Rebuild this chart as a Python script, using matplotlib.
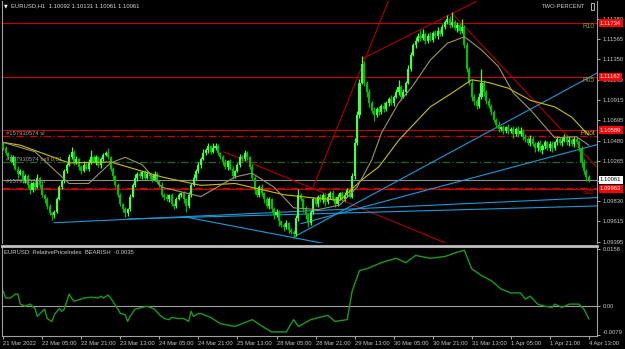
import numpy as np
import matplotlib
matplotlib.use('Agg')
import matplotlib.pyplot as plt
from matplotlib import transforms
from matplotlib.patches import Rectangle

plt.rcParams['font.family'] = ['Liberation Sans', 'DejaVu Sans']

# EURUSD H1 closes, 21 Mar 13:00 .. 4 Apr 13:00 (open = previous close)
first_open = 1.1043
closes = [
    1.1040, 1.1035, 1.1030, 1.1025, 1.1030, 1.1018, 1.1012, 1.1015, 1.1005, 1.1010,
    1.1000, 1.0995, 1.1003, 1.0998, 1.1008, 1.1000, 1.0990, 1.0985, 1.0978, 1.0970,
    1.0968, 1.0972, 1.0985, 1.0998, 1.1005, 1.1015, 1.1022, 1.1030, 1.1036, 1.1025,
    1.1028, 1.1020, 1.1015, 1.1022, 1.1018, 1.1025, 1.1030, 1.1025, 1.1030, 1.1022,
    1.1028, 1.1032, 1.1035, 1.1030, 1.1018, 1.1010, 1.1000, 1.0990, 1.0980, 1.0975,
    1.0970, 1.0975, 1.0988, 1.1000, 1.1008, 1.1012, 1.1010, 1.1014, 1.1008, 1.1012,
    1.1010, 1.1006, 1.1012, 1.1005, 1.1000, 1.0990, 1.0988, 1.0985, 1.0990, 1.0980,
    1.0978, 1.0985, 1.0990, 1.0992, 1.0985, 1.0978, 1.0990, 1.1000, 1.1008, 1.1015,
    1.1022, 1.1028, 1.1035, 1.1038, 1.1042, 1.1036, 1.1040, 1.1042, 1.1035, 1.1030,
    1.1025, 1.1020, 1.1026, 1.1018, 1.1010, 1.1015, 1.1022, 1.1030, 1.1028, 1.1035,
    1.1030, 1.1020, 1.1008, 1.0995, 1.0990, 1.0998, 1.0992, 1.0985, 1.0978, 1.0985,
    1.0975, 1.0968, 1.0972, 1.0962, 1.0958, 1.0955, 1.0960, 1.0952, 1.0950, 1.0948,
    1.0965, 1.0990, 1.0985, 1.0975, 1.0968, 1.0960, 1.0972, 1.0985, 1.0980, 1.0988,
    1.0984, 1.0990, 1.0982, 1.0988, 1.0992, 1.0985, 1.0980, 1.0988, 1.0992, 1.0985,
    1.0990, 1.0995, 1.0988, 1.1010, 1.1045, 1.1075, 1.1110, 1.1130, 1.1110, 1.1100,
    1.1088, 1.1080, 1.1075, 1.1082, 1.1078, 1.1085, 1.1082, 1.1088, 1.1092, 1.1088,
    1.1095, 1.1100, 1.1105, 1.1095, 1.1100, 1.1110, 1.1125, 1.1140, 1.1150, 1.1155,
    1.1160, 1.1158, 1.1162, 1.1155, 1.1160, 1.1156, 1.1163, 1.1160, 1.1165, 1.1162,
    1.1170, 1.1175, 1.1178, 1.1172, 1.1175, 1.1168, 1.1172, 1.1165, 1.1170, 1.1150,
    1.1125, 1.1110, 1.1095, 1.1090, 1.1085, 1.1095, 1.1110, 1.1100, 1.1090, 1.1085,
    1.1078, 1.1070, 1.1065, 1.1060, 1.1062, 1.1058, 1.1062, 1.1058, 1.1060, 1.1055,
    1.1060, 1.1055, 1.1058, 1.1052, 1.1050, 1.1045, 1.1050, 1.1044, 1.1040, 1.1045,
    1.1038, 1.1042, 1.1046, 1.1040, 1.1044, 1.1040, 1.1046, 1.1050, 1.1045, 1.1048,
    1.1052, 1.1046, 1.1049, 1.1044, 1.1050, 1.1046, 1.1040, 1.1025, 1.1015, 1.1009,
    1.1006,
]
# wick lengths in pips above / below the body
wick_up = [
    3, 2, 1, 4, 2, 1, 3, 2, 1, 2,  2, 3, 1, 2, 4, 1, 2, 1, 3, 2,
    1, 2, 3, 2, 1, 3, 2, 4, 5, 2,  3, 1, 2, 4, 2, 3, 8, 2, 3, 1,
    2, 3, 2, 5, 1, 2, 1, 3, 2, 1,  2, 1, 3, 2, 4, 2, 3, 1, 2, 3,
    2, 1, 3, 2, 1, 4, 2, 3, 1, 2,  1, 3, 2, 1, 2, 1, 3, 2, 4, 2,
    3, 2, 4, 2, 3, 1, 5, 3, 2, 1,  2, 3, 1, 2, 3, 1, 2, 4, 2, 3,
    2, 1, 3, 2, 1, 2, 3, 1, 2, 3,  1, 2, 3, 2, 1, 2, 3, 1, 2, 2,
    3, 6, 2, 1, 3, 2, 2, 3, 1, 2,  3, 2, 1, 4, 2, 3, 2, 3, 1, 2,
    3, 2, 1, 3, 6, 5, 4, 8, 3, 2,  3, 2, 4, 2, 3, 2, 4, 2, 3, 5,
    2, 3, 8, 2, 3, 2, 4, 3, 2, 4,  3, 6, 5, 2, 3, 4, 2, 3, 5, 2,
    3, 2, 4, 3, 10, 2, 3, 2, 8, 2, 3, 2, 4, 3, 2, 4, 15, 3, 2, 3,
    2, 3, 2, 4, 2, 3, 2, 4, 2, 3,  2, 3, 4, 2, 3, 2, 4, 3, 2, 3,
    4, 2, 3, 2, 3, 4, 2, 3, 2, 4,  3, 2, 4, 2, 3, 2, 3, 2, 3, 2,
    2,
]
wick_dn = [
    2, 3, 2, 1, 3, 2, 4, 1, 3, 2,  3, 4, 2, 3, 1, 3, 2, 4, 3, 2,
    5, 3, 2, 1, 2, 3, 2, 1, 2, 3,  2, 4, 3, 1, 2, 3, 2, 1, 3, 2,
    3, 2, 1, 2, 3, 4, 2, 3, 2, 3,  4, 3, 2, 1, 2, 3, 2, 3, 2, 1,
    3, 2, 1, 3, 2, 3, 4, 2, 3, 2,  3, 2, 1, 3, 4, 7, 2, 3, 1, 2,
    2, 3, 1, 2, 3, 2, 1, 2, 3, 2,  3, 2, 4, 2, 3, 2, 1, 2, 3, 2,
    3, 2, 2, 4, 3, 2, 3, 4, 2, 3,  3, 4, 2, 5, 3, 4, 2, 3, 2, 4,
    2, 3, 2, 3, 4, 5, 2, 3, 2, 3,  2, 3, 4, 2, 3, 2, 3, 2, 3, 2,
    2, 3, 2, 2, 3, 2, 3, 2, 4, 5,  4, 3, 6, 2, 3, 2, 4, 2, 3, 2,
    3, 2, 3, 4, 2, 3, 2, 3, 2, 3,  2, 3, 2, 4, 3, 2, 3, 2, 3, 2,
    2, 3, 2, 4, 3, 2, 4, 3, 2, 3,  4, 3, 5, 4, 3, 2, 3, 4, 3, 2,
    3, 2, 4, 3, 2, 3, 2, 3, 2, 4,  2, 3, 2, 3, 4, 2, 3, 2, 4, 3,
    2, 4, 3, 2, 3, 4, 2, 3, 2, 3,  2, 3, 4, 2, 3, 2, 3, 5, 3, 4,
    2,
]

# moving averages (bar index, price)
ma_slow_bars = [0, 7, 27, 44, 65, 81, 95, 115, 129, 138, 147, 154, 162, 167, 175, 184, 192, 199, 207, 216, 226, 233, 238, 240]
ma_slow = [1.1046, 1.1043, 1.1024, 1.1025, 1.1009, 1.1000, 1.1002, 1.0990, 1.0986, 1.0984, 1.1006, 1.1020,
           1.1048, 1.1062, 1.1084, 1.1099, 1.1113, 1.1110, 1.1104, 1.1091, 1.1084, 1.1073, 1.1059, 1.1054]
ma_fast_bars = [0, 13, 22, 27, 35, 44, 50, 57, 65, 81, 95, 102, 111, 119, 129, 138, 145, 151, 155, 162,
                168, 175, 182, 189, 196, 203, 209, 216, 226, 235, 240]
ma_fast = [1.1046, 1.1036, 1.1014, 1.1002, 1.1002, 1.1024, 1.1030, 1.1022, 1.0998, 1.0988, 1.1009, 1.1013,
           1.0998, 1.0976, 1.0974, 1.0979, 1.0998, 1.1027, 1.1056, 1.1088, 1.1107, 1.1134, 1.1152, 1.1159,
           1.1145, 1.1127, 1.1099, 1.1081, 1.1051, 1.1052, 1.1043]

# levels
r10, r05, pivot, s05 = 1.11734, 1.11162, 1.10589, 1.09963
bid = 1.10061
sl, entry, tp = 1.10528, 1.10250, 1.09972

# trend lines: (bar0, price0, bar1, price1)
red_lines = [(127, 1.0998, 158, 1.1198), (147.5, 1.1136, 194, 1.1197),
             (184.4, 1.1183, 243, 1.1020), (90.2, 1.1036, 181.6, 1.0938)]
blue_lines = [(20.9, 1.0960, 244, 1.0987), (51.2, 1.0964, 244, 1.0978),
              (75, 1.0966, 131, 1.0938), (119.3, 1.0945, 244, 1.1121),
              (122, 1.0959, 244, 1.1044)]

# relative price index (bar index, value)
rpi_bars = [0, 1, 3, 5, 6, 7, 9, 11, 13, 14, 16, 17, 18, 20, 21, 23, 24, 25, 27, 28, 29, 32, 33, 36, 39,
            40, 41, 43, 44, 47, 48, 50, 51, 52, 54, 57, 59, 62, 64, 66, 68, 69, 72, 74, 76, 77, 78, 80, 81,
            85, 89, 95, 102, 107, 110, 116, 119, 121, 126, 133, 136, 141, 143, 146, 149, 155, 161, 165, 169,
            175, 181, 186, 189, 192, 196, 200, 204, 208, 212, 214, 216, 218, 219, 222, 225, 226, 229, 232,
            236, 238, 240]
rpi = [0.0042, 0.0023, 0.0023, 0.0034, 0.0034, 0.0006, 0.0000, 0.0006, -0.0006, -0.0028, -0.0014, -0.0008,
       -0.0034, -0.0042, -0.0023, -0.0006, -0.0014, -0.0008, 0.0034, 0.0023, 0.0014, 0.0020, 0.0023, 0.0025,
       0.0023, 0.0028, 0.0023, 0.0031, 0.0023, -0.0008, -0.0020, -0.0023, -0.0042, -0.0028, -0.0008, -0.0003,
       0.0000, -0.0008, -0.0023, -0.0034, -0.0037, -0.0031, -0.0034, -0.0034, -0.0042, -0.0014, -0.0028,
       -0.0020, -0.0020, -0.0031, -0.0048, -0.0056, -0.0037, -0.0059, -0.0071, -0.0071, -0.0037, -0.0056,
       -0.0037, -0.0025, -0.0042, -0.0037, 0.0042, 0.0099, 0.0104, 0.0121, 0.0133, 0.0121, 0.0141, 0.0133,
       0.0138, 0.0150, 0.0155, 0.0104, 0.0085, 0.0071, 0.0048, 0.0037, 0.0037, 0.0020, 0.0028, 0.0014,
       0.0006, 0.0000, -0.0003, 0.0006, -0.0003, 0.0006, 0.0006, -0.0008, -0.0035]

price_ticks = [1.11780, 1.11565, 1.11350, 1.11130, 1.10915, 1.10695, 1.10480, 1.10265, 1.10045, 1.09830, 1.09615, 1.09395]
time_labels = ['21 Mar 2022', '22 Mar 05:00', '22 Mar 21:00', '23 Mar 13:00', '24 Mar 05:00', '24 Mar 21:00',
               '25 Mar 13:00', '28 Mar 05:00', '28 Mar 21:00', '29 Mar 13:00', '30 Mar 05:00', '30 Mar 21:00',
               '31 Mar 13:00', '1 Apr 05:00', '1 Apr 21:00', '4 Apr 13:00']

BULL = '#44ff44'
BEAR = '#00c000'
RED = '#c80000'
BLUE = '#1a9ad6'
AXC = '#c8c8c8'
FS = 4.2

W, H = 625, 349
fig = plt.figure(figsize=(W / 100, H / 100), dpi=100, facecolor='black')

def box(x0, y0, x1, y1):
    return [x0 / W, 1 - y1 / H, (x1 - x0) / W, (y1 - y0) / H]

ax = fig.add_axes(box(2, 1, 597, 243), facecolor='black')
ax2 = fig.add_axes(box(2, 246, 597, 335.5), facecolor='black', sharex=ax)

n = len(closes)
idx = np.arange(n)
c = np.array(closes)
o = np.concatenate([[first_open], c[:-1]])
hi = np.maximum(o, c) + np.array(wick_up) * 0.0001
lo = np.minimum(o, c) - np.array(wick_dn) * 0.0001
cols = np.where(c >= o, BULL, BEAR)

# horizontal levels
for lvl in (r10, r05, pivot, s05):
    ax.axhline(lvl, color=RED, lw=0.8, zorder=1)
ax.axhline(bid, color='#909090', lw=0.8, zorder=1)
ax.axhline(sl, color='#d00000', lw=0.9, ls=(0, (6, 2, 1, 2)), zorder=1)
ax.axhline(tp, color='#d00000', lw=0.9, ls=(0, (6, 2, 1, 2)), zorder=1)
ax.axhline(entry, color='#1f6b1f', lw=0.9, ls=(0, (6, 2, 1, 2)), zorder=1)

# candles
ax.vlines(idx, lo, hi, colors=cols, lw=0.9, zorder=3)
ax.bar(idx, np.maximum(np.abs(c - o), 0.00006), bottom=np.minimum(o, c), width=0.85,
       color=cols, linewidth=0, zorder=3)

# moving averages
ax.plot(ma_slow_bars, ma_slow, color='#c8c000', lw=0.8, zorder=4)
ax.plot(ma_fast_bars, ma_fast, color='#9a9468', lw=0.8, zorder=4)

# trend lines
for b0, p0, b1, p1 in red_lines:
    ax.plot([b0, b1], [p0, p1], color='#b00000', lw=0.8, zorder=2)
for b0, p0, b1, p1 in blue_lines:
    ax.plot([b0, b1], [p0, p1], color=BLUE, lw=0.8, zorder=2)

ax.set_xlim(-0.5, 243.35)
ax.set_ylim(1.09383, 1.11973)
ax.yaxis.tick_right()
ax.set_yticks(price_ticks)
# the 1.10045 label sits under the bid box on the terminal, so it stays blank
ax.set_yticklabels(['' if p == 1.10045 else '%.5f' % p for p in price_ticks])
ax.tick_params(axis='y', colors=AXC, labelsize=FS, length=2.5, width=0.6, pad=1.5)
ax.tick_params(axis='x', bottom=False, labelbottom=False)
for s in ('top', 'bottom'):
    ax.spines[s].set_visible(False)
for s in ('left', 'right'):
    ax.spines[s].set_color('#a0a0a0')
    ax.spines[s].set_linewidth(0.8)

# level names and order labels
ax.text(242.5, r10, 'R10', color='#9a9a3a', fontsize=FS + 0.6, ha='right', va='top')
ax.text(242.5, r05, 'R05', color='#9a9a3a', fontsize=FS + 0.6, ha='right', va='top')
ax.text(242.5, pivot, 'Pivot', color='#d2c000', fontsize=FS + 0.6, ha='right', va='top')
ax.text(242.5, s05, 'S05', color='#d00000', fontsize=FS + 0.6, ha='right', va='top')
ax.text(1, sl + 0.00005, '#157930574 sl', color='#a0a0a0', fontsize=FS, va='bottom')
ax.text(1, entry + 0.00005, '#157930574 sell 0.01', color='#a0a0a0', fontsize=FS, va='bottom')
ax.text(1, bid - 0.0002, '#157930574 tp', color='#a0a0a0', fontsize=FS, va='center')

# right-hand price boxes
tr = transforms.blended_transform_factory(fig.transFigure, ax.transData)
for lvl in (r10, r05, pivot, s05):
    fig.text(600 / W, lvl, '%.5f' % lvl, transform=tr, color='white', fontsize=FS, va='center',
             bbox=dict(boxstyle='square,pad=0.25', fc='#ff0000', ec='none'))
fig.text(600 / W, bid, '%.5f' % bid, transform=tr, color='black', fontsize=FS, va='center',
         bbox=dict(boxstyle='square,pad=0.25', fc='white', ec='none'))

# indicator panel
ax2.axhline(0, color='#a0a0a0', lw=0.8)
ax2.plot(rpi_bars, rpi, color='#1c9a1c', lw=1.0)
ax2.set_ylim(-0.0081, 0.01671)
ax2.yaxis.tick_right()
ax2.set_yticks([0.0158, 0.0, -0.0079])
ax2.set_yticklabels(['0.0158', '0.00', '-0.0079'])
ax2.tick_params(axis='y', colors=AXC, labelsize=FS, length=2.5, width=0.6, pad=1.5)
ax2.get_yticklabels()[2].set_va('bottom')
ax2.set_xticks(np.arange(len(time_labels)) * 16)
ax2.set_xticklabels(time_labels)
ax2.tick_params(axis='x', colors=AXC, labelsize=FS, length=2.5, width=0.6, pad=1.5)
for lbl in ax2.get_xticklabels():
    lbl.set_ha('left')
for s in ('left', 'right', 'bottom'):
    ax2.spines[s].set_color('#a0a0a0')
    ax2.spines[s].set_linewidth(0.8)
ax2.spines['top'].set_color('#c0c0c0')
ax2.spines['top'].set_linewidth(2.0)
ax2.text(0.5, 0.0150, 'EURUSD: RelativePriceIndex  BEARISH  -0.0035', color='#d0d0d0', fontsize=FS, va='center')

# header texts
fig.text(4 / W, 1 - 6 / H, '\u25bc', color='white', fontsize=3.5, va='center', family='DejaVu Sans')
fig.text(11 / W, 1 - 6 / H, 'EURUSD,H1  1.10092 1.10131 1.10061 1.10061', color='#d8d8d8', fontsize=FS, va='center')
fig.text(585 / W, 1 - 7 / H, 'TWO-PERCENT', color='#d0d0d0', fontsize=FS, va='center', ha='right')
fig.add_artist(Rectangle((591 / W, 1 - 10 / H), 3 / W, 7 / H, transform=fig.transFigure,
                         fill=False, ec='#d0d0d0', lw=0.6))

fig.savefig('out.png', dpi=100, facecolor='black')
